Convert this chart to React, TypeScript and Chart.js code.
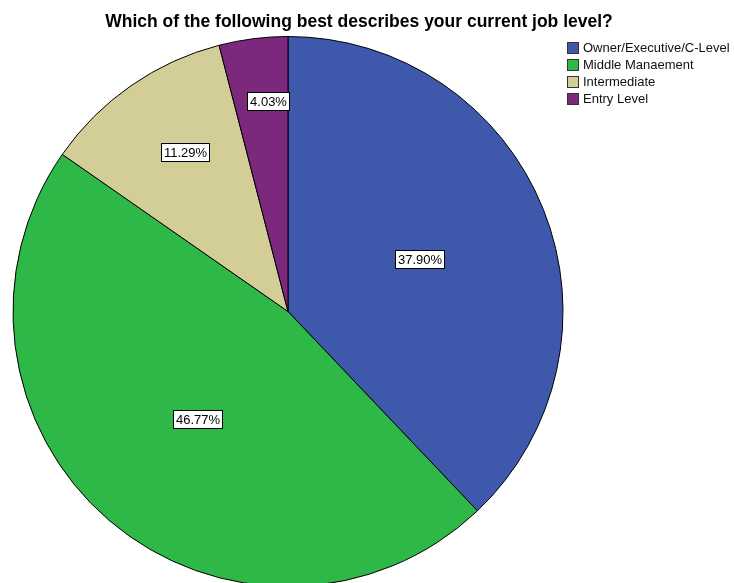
import React, { useEffect, useRef } from "react";
import { Chart, registerables } from "chart.js";

Chart.register(...registerables);

const titleText = "Which of the following best describes your current job level?";
const categories = ["Owner/Executive/C-Level", "Middle Manaement", "Intermediate", "Entry Level"];
const percentages = [37.9, 46.77, 11.29, 4.03];
const colors = ["#3E58AC", "#2EB848", "#D3CE97", "#7C287D"];
const labelRadiusFrac = [0.516, 0.513, 0.69, 0.77];
const labelAngleShiftDeg = [0, -0.6, 2.1, 1.9];

const FONT = "'Liberation Sans', Arial, sans-serif";

const decorPlugin = {
  id: "decor",
  afterDraw(chart: any) {
    const ctx = chart.ctx as CanvasRenderingContext2D;
    ctx.save();
    // title
    ctx.fillStyle = "#000";
    ctx.font = `bold 17.5px ${FONT}`;
    ctx.textAlign = "center";
    ctx.textBaseline = "alphabetic";
    ctx.fillText(titleText, 359, 27);

    // legend
    ctx.font = `13px ${FONT}`;
    ctx.textAlign = "left";
    ctx.textBaseline = "middle";
    categories.forEach((c, i) => {
      const y = 42 + i * 17;
      ctx.fillStyle = colors[i];
      ctx.fillRect(567.5, y + 0.5, 11, 11);
      ctx.strokeStyle = "#333";
      ctx.lineWidth = 1;
      ctx.strokeRect(567.5, y + 0.5, 11, 11);
      ctx.fillStyle = "#111";
      ctx.fillText(c, 583, y + 6.5);
    });

    // slice labels
    const meta = chart.getDatasetMeta(0);
    meta.data.forEach((arc: any, i: number) => {
      const props = arc.getProps(["x", "y", "startAngle", "endAngle", "outerRadius"], true);
      const mid = (props.startAngle + props.endAngle) / 2 + (labelAngleShiftDeg[i] * Math.PI) / 180;
      const r = props.outerRadius * labelRadiusFrac[i];
      const cx = props.x + Math.cos(mid) * r;
      const cy = props.y + Math.sin(mid) * r;
      const txt = percentages[i].toFixed(2) + "%";
      ctx.font = `13px ${FONT}`;
      const w = Math.round(ctx.measureText(txt).width + 5);
      const h = 18;
      const bx = Math.round(cx - w / 2) + 0.5;
      const by = Math.round(cy - h / 2) + 0.5;
      ctx.fillStyle = "#fff";
      ctx.fillRect(bx, by, w, h);
      ctx.strokeStyle = "#000";
      ctx.lineWidth = 1;
      ctx.strokeRect(bx, by, w, h);
      ctx.fillStyle = "#000";
      ctx.textAlign = "center";
      ctx.textBaseline = "middle";
      ctx.fillText(txt, bx + w / 2, by + h / 2 + 1);
    });
    ctx.restore();
  },
};

export default function App() {
  const ref = useRef<HTMLCanvasElement | null>(null);
  useEffect(() => {
    if (!ref.current) return;
    const chart = new Chart(ref.current, {
      type: "pie",
      data: {
        labels: categories,
        datasets: [
          {
            data: percentages,
            backgroundColor: colors,
            borderColor: "#000",
            borderWidth: 1,
            radius: 275,
          } as any,
        ],
      },
      options: {
        animation: false,
        responsive: false,
        maintainAspectRatio: false,
        layout: { padding: { left: 0, right: 158, top: 23, bottom: 0 } },
        plugins: {
          legend: { display: false },
          title: { display: false },
          tooltip: { enabled: false },
        },
      },
      plugins: [decorPlugin],
    });
    return () => chart.destroy();
  }, []);
  return (
    <div style={{ position: "fixed", left: 0, top: 0, width: 734, height: 600, background: "#fff" }}>
      <canvas ref={ref} width={734} height={600} style={{ width: 734, height: 600 }} />
    </div>
  );
}
